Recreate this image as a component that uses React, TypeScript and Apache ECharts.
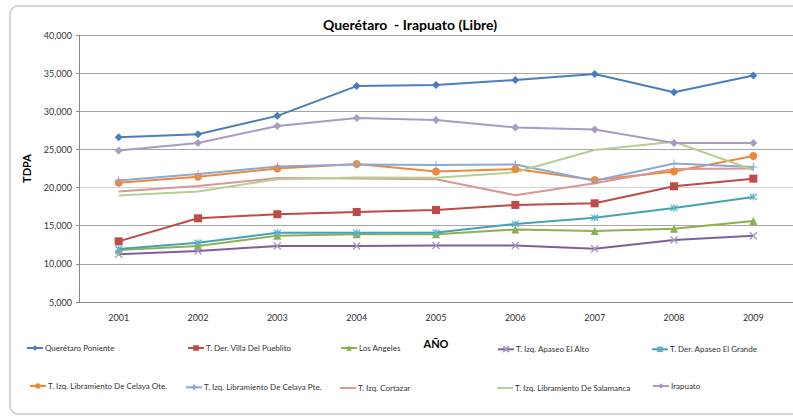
import React, { useEffect, useRef } from "react";
import * as echarts from "echarts";

const years = ["2001", "2002", "2003", "2004", "2005", "2006", "2007", "2008", "2009"];

const queretaroPoniente = [26600, 27000, 29400, 33300, 33450, 34100, 34900, 32500, 34700];
const villaDelPueblito = [12950, 15970, 16500, 16800, 17060, 17720, 17940, 20170, 21170];
const losAngeles = [11800, 12340, 13700, 13870, 13870, 14510, 14300, 14610, 15610];
const apaseoElAlto = [11250, 11680, 12340, 12340, 12400, 12400, 11970, 13130, 13690];
const apaseoElGrande = [11950, 12770, 14070, 14070, 14100, 15220, 16040, 17320, 18770];
const celayaOte = [20640, 21420, 22490, 23090, 22100, 22430, 21000, 22100, 24140];
const celayaPte = [20930, 21780, 22760, 23020, 22960, 23020, 20900, 23150, 22700];
const cortazar = [19480, 20200, 21250, 21200, 21100, 19000, 20560, 22430, 22500];
const salamanca = [18960, 19480, 21100, 21320, 21290, 22000, 24930, 26000, 22300];
const irapuato = [24860, 25840, 28070, 29120, 28860, 27870, 27610, 25840, 25840];

const yTicks = { min: 5000, max: 40000, interval: 5000 };

const X_PATH = "path://M0,0L10,10M10,0L0,10";
const STAR_PATH = "path://M0,0L10,10M10,0L0,10M5,-1L5,11";
const PLUS_PATH = "path://M5,0L5,10M0,5L10,5";

const FONT = "Lato, 'Open Sans', sans-serif";

export default function App() {
  const ref = useRef<HTMLDivElement>(null);
  useEffect(() => {
    document.body.style.margin = "0";
    const chart = echarts.init(ref.current!, undefined, { renderer: "svg" });

    const mk = (
      name: string,
      data: number[],
      color: string,
      symbol: string,
      symbolSize: number,
      opts: any = {}
    ) => ({
      name,
      type: "line",
      data,
      symbol,
      symbolSize,
      showSymbol: symbol !== "none",
      lineStyle: { color, width: 2 },
      itemStyle: { color },
      ...opts,
    });

    const series = [
      mk("Querétaro Poniente", queretaroPoniente, "#4A7EBB", "diamond", 8),
      mk("T. Der. Villa Del Pueblito", villaDelPueblito, "#BE4B48", "rect", 8),
      mk("Los Angeles", losAngeles, "#8DB04F", "triangle", 8),
      mk("T. Izq. Apaseo El Alto", apaseoElAlto, "#7D5FA0", X_PATH, 7, {
        itemStyle: { color: "none", borderColor: "#A696C2", borderWidth: 1.3 },
      }),
      mk("T. Der. Apaseo El Grande", apaseoElGrande, "#46A0B8", STAR_PATH, 7, {
        itemStyle: { color: "none", borderColor: "#5DB3CC", borderWidth: 1.3 },
      }),
      mk("T. Izq. Libramiento De Celaya Ote.", celayaOte, "#EB8A3C", "circle", 8),
      mk("T. Izq. Libramiento De Celaya Pte.", celayaPte, "#8EA8D4", PLUS_PATH, 8, {
        itemStyle: { color: "none", borderColor: "#8EA8D4", borderWidth: 1 },
      }),
      mk("T. Izq. Cortazar", cortazar, "#D99694", "none", 0),
      mk("T. Izq. Libramiento De Salamanca", salamanca, "#B7CE92", "none", 0),
      mk("Irapuato", irapuato, "#A99BC4", "diamond", 8),
    ];

    const legendPos = [
      [26, 344], [187, 344], [340, 344], [497, 344], [651, 344],
      [29, 382], [185, 382], [340, 382], [497, 382], [652, 382],
    ];
    const legends = series.map((s: any, i) => {
      const plain = s.symbol === "none";
      return {
        data: plain
          ? [{ name: s.name, icon: "rect", itemStyle: { color: s.lineStyle.color } }]
          : [s.name],
        left: legendPos[i][0],
        top: plain ? legendPos[i][1] + 2 : legendPos[i][1],
        padding: 0,
        itemWidth: 16,
        itemHeight: plain ? 2 : 7,
        itemGap: 0,
        textStyle: { fontSize: 8, color: "#333", fontFamily: FONT, padding: [0, 0, 0, -3] },
        selectedMode: false,
      };
    });

    chart.setOption({
      animation: false,
      backgroundColor: "#fff",
      title: {
        text: "Querétaro  - Irapuato (Libre)",
        left: 405,
        textAlign: "center",
        top: 12,
        textStyle: { fontSize: 14, fontWeight: "bold", color: "#000", fontFamily: FONT },
      },
      graphic: [
        {
          type: "rect",
          shape: { x: 10, y: 6, width: 800, height: 408, r: 8 },
          style: { fill: "none", stroke: "#C8C8C8", lineWidth: 1.5 },
          silent: true,
          z: -1,
        },
      ],
      legend: legends,
      grid: { left: 79, right: 0, top: 35, bottom: 115, containLabel: false },
      xAxis: {
        type: "category",
        data: years,
        boundaryGap: true,
        name: "AÑO",
        nameLocation: "middle",
        nameGap: 36,
        nameTextStyle: { fontSize: 11, fontWeight: "bold", color: "#000", fontFamily: FONT },
        axisLine: { lineStyle: { color: "#868686", width: 1 } },
        axisTick: { show: false },
        axisLabel: { fontSize: 9, color: "#333", margin: 11, fontFamily: FONT },
        splitLine: { show: false },
      },
      yAxis: {
        type: "value",
        min: yTicks.min,
        max: yTicks.max,
        interval: yTicks.interval,
        name: "TDPA",
        nameLocation: "middle",
        nameRotate: 90,
        nameGap: 47,
        nameTextStyle: { fontSize: 11, fontWeight: "bold", color: "#000", fontFamily: FONT },
        axisLine: { show: true, lineStyle: { color: "#868686", width: 1 } },
        axisTick: { show: true, length: 3, lineStyle: { color: "#868686" } },
        axisLabel: {
          fontSize: 9,
          color: "#333",
          margin: 7,
          fontFamily: FONT,
          formatter: (v: number) => v.toLocaleString("en-US"),
        },
        splitLine: {
          show: true,
          lineStyle: {
            color: ["#A6A6A6", "#A6A6A6", "#A6A6A6", "#D4D4D4", "#A6A6A6", "#A6A6A6", "#A6A6A6", "#A6A6A6"],
            width: 1,
          },
        },
      },
      series,
    });
    return () => chart.dispose();
  }, []);
  return <div ref={ref} style={{ width: 793, height: 417 }} />;
}
